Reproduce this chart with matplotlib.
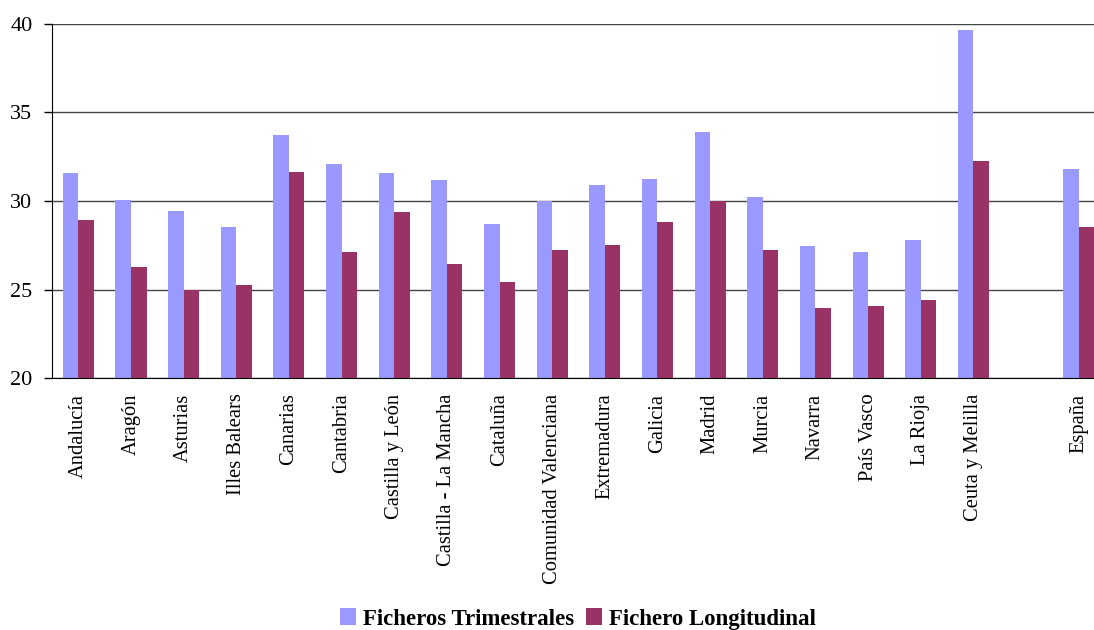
import matplotlib

matplotlib.use('agg')
import matplotlib.pyplot as plt
import numpy as np

regiones = ['Andalucía', 'Aragón', 'Asturias', 'Illes Balears', 'Canarias',
            'Cantabria', 'Castilla y León', 'Castilla - La Mancha', 'Cataluña',
            'Comunidad Valenciana', 'Extremadura', 'Galicia', 'Madrid', 'Murcia',
            'Navarra', 'País Vasco', 'La Rioja', 'Ceuta y Melilla', '', 'España']

trimestrales = [31.6, 30.05, 29.45, 28.55, 33.7, 32.1, 31.6, 31.2, 28.7, 30.0,
                30.9, 31.25, 33.9, 30.25, 27.45, 27.1, 27.8, 39.65, np.nan, 31.8]
longitudinal = [28.95, 26.3, 25.0, 25.25, 31.65, 27.1, 29.4, 26.45, 25.45, 27.25,
                27.5, 28.8, 30.0, 27.25, 23.97, 24.05, 24.42, 32.27, np.nan, 28.55]

plt.rcParams['font.family'] = ['Liberation Serif', 'DejaVu Serif']

fig = plt.figure(figsize=(10.94, 6.30), dpi=100)
# axes run a bit past the right edge, like the original crop
ax = fig.add_axes([52 / 1094, 1 - 378.3 / 630, 1053 / 1094, (378.3 - 23.7) / 630])

x = np.arange(len(regiones))
w = 0.295
ax.bar(x - w / 2, trimestrales, w, color='#9999FF', label='Ficheros Trimestrales', zorder=3)
ax.bar(x + w / 2, longitudinal, w, color='#993366', label='Fichero Longitudinal', zorder=3)

ax.set_ylim(20, 40)
ax.set_xlim(-0.5, len(regiones) - 0.5)
ax.set_yticks([20, 25, 30, 35, 40])
ax.set_xticks(x)
ax.set_xticklabels(regiones, rotation=90, fontsize=14.8)
ax.tick_params(axis='x', length=0, pad=11)
ax.tick_params(axis='y', length=6, width=1, pad=8, labelsize=16, direction='out')
ax.yaxis.grid(True, color='#444444', linewidth=1, zorder=1)

for s in ['top', 'right']:
    ax.spines[s].set_visible(False)
ax.spines['left'].set_color('black')
ax.spines['bottom'].set_color('black')
ax.spines['left'].set_zorder(4)
ax.spines['bottom'].set_zorder(4)

leg = fig.legend(loc='center', bbox_to_anchor=(578 / 1094, 1 - 619 / 630), ncol=2,
                 frameon=False, handlelength=0.7, handleheight=0.7,
                 handletextpad=0.3, columnspacing=0.5,
                 prop={'weight': 'bold', 'size': 16.5})

fig.savefig('out.png', dpi=100)
